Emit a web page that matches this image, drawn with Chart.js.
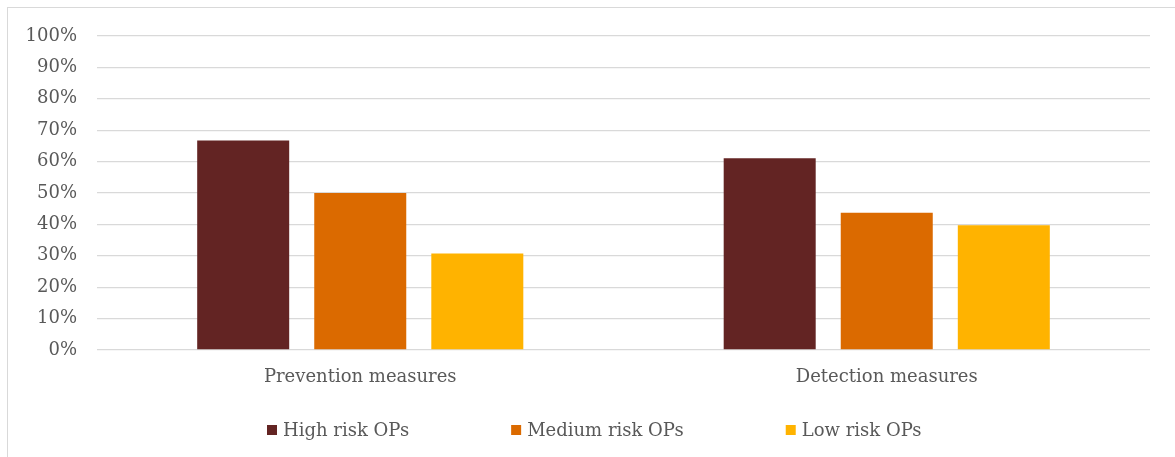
<!DOCTYPE html>
<html>
<head>
<meta charset="utf-8">
<script src="https://cdn.jsdelivr.net/npm/chart.js@4"></script>
<style>
    html, body { margin: 0; padding: 0; background: #fff; }
    #wrap { position: relative; width: 1175px; height: 457px; }
    #frame { position: absolute; left: 7px; top: 7px; right: 0; bottom: 0; border-left: 1px solid #d9d9d9; border-top: 1px solid #d9d9d9; }
    canvas { position: absolute; left: 0; top: 0; }
</style>
</head>
<body>
<div id="wrap">
    <div id="frame"></div>
    <canvas id="riskChart" width="1175" height="457"></canvas>
</div>
<script>
const categories = ["Prevention measures", "Detection measures"]
const highRisk = [66.7, 61.1]
const mediumRisk = [50.0, 43.7]
const lowRisk = [30.7, 39.7]
const yTicks = [0, 10, 20, 30, 40, 50, 60, 70, 80, 90, 100]

const textColor = "#595959"
const serif = "'DejaVu Serif', serif"

// legend is drawn by hand so the items sit where Excel put them
const bottomLegend = {
    id: "bottomLegend",
    afterDraw(chart, args, opts) {
        const ctx = chart.ctx
        ctx.save()
        ctx.font = opts.font
        ctx.textBaseline = "middle"
        ctx.textAlign = "left"
        let x = opts.x
        chart.data.datasets.forEach(ds => {
            ctx.fillStyle = ds.backgroundColor
            ctx.fillRect(x, opts.y - 5, 10, 10)
            ctx.fillStyle = opts.color
            ctx.fillText(ds.label, x + 16, opts.y + 1)
            x += 16 + ctx.measureText(ds.label).width + opts.gap
        })
        ctx.restore()
    }
}

new Chart(document.getElementById("riskChart").getContext("2d"), {
    type: "bar",
    data: {
        labels: categories,
        datasets: [
            { label: "High risk OPs", data: highRisk, backgroundColor: "#632423" },
            { label: "Medium risk OPs", data: mediumRisk, backgroundColor: "#db6a00" },
            { label: "Low risk OPs", data: lowRisk, backgroundColor: "#ffb300" }
        ]
    },
    options: {
        responsive: false,
        animation: false,
        layout: { padding: { left: 7, right: 25, top: 36, bottom: 67 } },
        datasets: {
            bar: { categoryPercentage: 0.667, barPercentage: 0.786 }
        },
        scales: {
            x: {
                grid: { display: false },
                border: { display: false },
                ticks: { color: textColor, font: { family: serif, size: 18 }, padding: 9 },
                afterFit: s => { s.height = 40 }
            },
            y: {
                min: 0,
                max: 100,
                afterBuildTicks: s => { s.ticks = yTicks.map(v => ({ value: v })) },
                grid: { color: "#d9d9d9", lineWidth: 1.3, drawTicks: false },
                border: { display: false },
                ticks: {
                    color: textColor,
                    font: { family: serif, size: 18 },
                    padding: 20,
                    callback: v => v + "%"
                },
                afterFit: s => { s.width = 90 }
            }
        },
        plugins: {
            legend: { display: false },
            tooltip: { enabled: false },
            bottomLegend: { x: 267, y: 430, gap: 102, color: textColor, font: "18px " + serif }
        }
    },
    plugins: [bottomLegend]
})
</script>
</body>
</html>
